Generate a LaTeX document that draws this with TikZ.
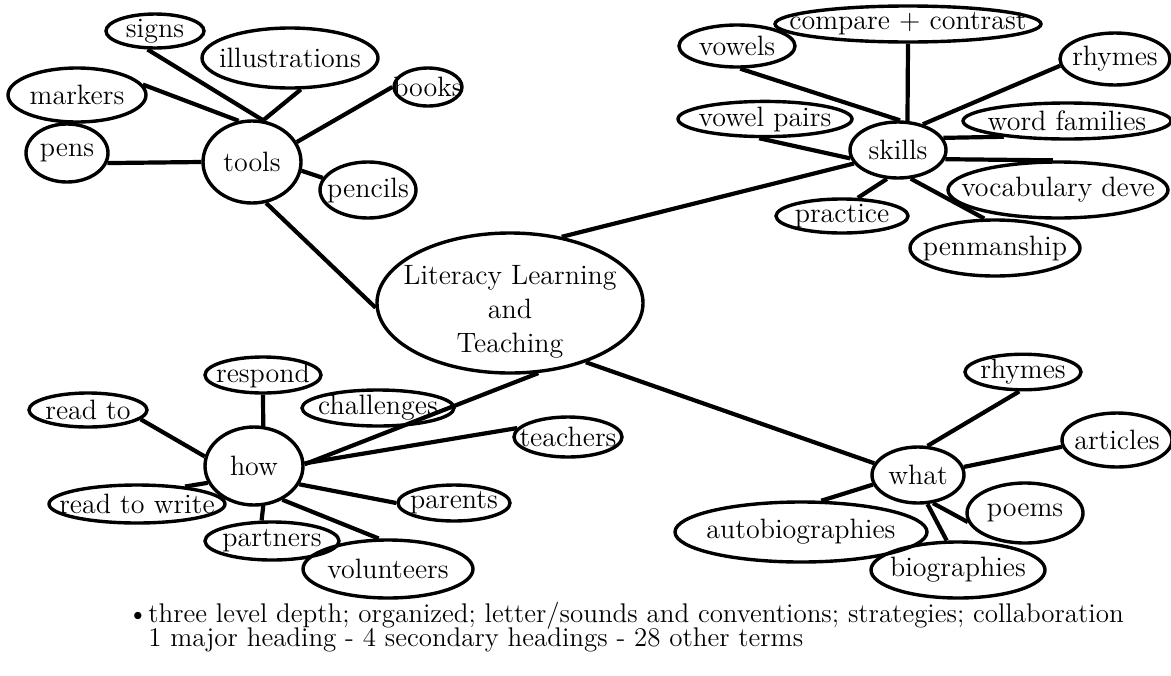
\documentclass[tikz,border=0pt]{standalone}
\usetikzlibrary{shapes.geometric}
\begin{document}
\begin{tikzpicture}[x=0.5pt, y=-0.5pt,
    squeeze/.style={execute at begin node={\setbox0=\hbox\bgroup},
                    execute at end node={\egroup\hbox to 0pt{\hss\box0\hss}}},
    bub/.style 2 args={ellipse, draw, line width=1.7pt, inner sep=0pt,
                minimum width=#1*0.5pt, minimum height=#2*0.5pt,
                font=\fontsize{14}{17}\selectfont, squeeze},
    link/.style={line width=2.1pt},
    note/.style={font=\fontsize{13.5}{16}\selectfont, inner sep=0pt}
  ]
  \useasboundingbox (0,0) rectangle (1171,675);
  % main heading
  \node[bub={266}{140}, align=center, inner ysep=-4pt] (core) at (510,303)
    {\rule{0pt}{18pt}Literacy Learning\\and\\Teaching};
  % tools
  \node[bub={98}{82}] (tools) at (252,162) {tools};
  \node[bub={98}{32}] (signs) at (155,31) {signs};
  \node[bub={176}{60}] (illus) at (290,58) {illustrations};
  \node[bub={138}{54}] (markers) at (77,95) {markers};
  \node[bub={82}{58}] (pens) at (67,153) {pens};
  \node[bub={68}{38}] (books) at (428,87) {books};
  \node[bub={96}{56}] (pencils) at (368,190) {pencils};
  % skills
  \node[bub={96}{56}] (skills) at (898,150) {skills};
  \node[bub={266}{36}] (compare) at (908,24) {compare + contrast};
  \node[bub={116}{42}] (vowels) at (737,46) {vowels};
  \node[bub={110}{52}] (rhymesA) at (1115,59) {rhymes};
  \node[bub={174}{32}] (pairs) at (765,119) {vowel pairs};
  \node[bub={208}{36}] (families) at (1067,121) {word families};
  \node[bub={220}{56}] (vocab) at (1058,190) {vocabulary deve};
  \node[bub={132}{34}] (practice) at (842,216) {practice};
  \node[bub={170}{56}] (penman) at (995,248) {penmanship};
  % how
  \node[bub={98}{78}] (how) at (254,466) {how};
  \node[bub={116}{36}] (respond) at (263,375) {respond};
  \node[bub={118}{34}] (readto) at (88,410) {read to};
  \node[bub={152}{36}] (challenges) at (378,408) {challenges};
  \node[bub={176}{38}] (readwrite) at (137,504) {read to write};
  \node[bub={112}{36}] (parents) at (454,503) {parents};
  \node[bub={134}{38}] (partners) at (272,541) {partners};
  \node[bub={170}{58}] (volunteers) at (388,569) {volunteers};
  \node[bub={108}{40}] (teachers) at (568,437) {teachers};
  % what
  \node[bub={92}{56}] (what) at (918,475) {what};
  \node[bub={116}{32}] (rhymesB) at (1023,372) {rhymes};
  \node[bub={110}{54}] (articles) at (1117,440) {articles};
  \node[bub={116}{60}] (poems) at (1025,513) {poems};
  \node[bub={174}{56}] (bios) at (958,570) {biographies};
  \node[bub={252}{60}] (autobios) at (801,532) {autobiographies};

  % links round tools
  \draw[link] (signs.-112) -- (tools.75);
  \draw[link] (illus.-71) -- (tools.75);
  \draw[link] (markers.9) -- (tools.108);
  \draw[link] (books.180) -- (tools.24);
  \draw[link] (pens.-14) -- (tools.180);
  \draw[link] (tools.-10) -- (pencils.165);
  \draw[link] (tools.-71) -- (core.182);
  % links round skills
  \draw[link] (vowels.-82) -- (skills.86);
  \draw[link] (compare.south) -- (skills.72);
  \draw[link] (rhymesA.-173) -- (skills.46);
  \draw[link] (pairs.-107) -- (skills.190);
  \draw[link] (core.52) -- (skills.197);
  \draw[link] (skills.15) -- (families.-166);
  \draw[link] (skills.-11) -- (vocab.100);
  \draw[link] (skills.-66) -- (penman.110);
  \draw[link] (skills.-111) -- (practice.49);
  % links round how
  \draw[link] (readto.-10) -- (how.169);
  \draw[link] (respond.south) -- (how.77);
  \draw[link] (core.-68) -- (how.2);
  \draw[link] (readwrite.20) -- (how.200);
  \draw[link] (how.3) -- (teachers.170);
  \draw[link] (how.-22) -- (parents.west);
  \draw[link] (how.-50) -- (volunteers.107);
  \draw[link] (how.-77) -- (partners.117);
  % links round what
  \draw[link] (core.-38) -- (what.165);
  \draw[link] (rhymesB.-101) -- (what.72);
  \draw[link] (articles.-173) -- (what.10);
  \draw[link] (autobios.57) -- (what.192);
  \draw[link] (what.-62) -- (poems.189);
  \draw[link] (what.-72) -- (bios.111);

  % notes below
  \node[note, anchor=base] (dot) at (138,622) {\textbullet};
  \node[note, anchor=base west] (summary) at (148,622) {three level depth; organized; letter/sounds and conventions; strategies; collaboration};
  \node[note, anchor=base west] (count) at (148,646) {1 major heading - 4 secondary headings - 28 other terms};
\end{tikzpicture}
\end{document}
